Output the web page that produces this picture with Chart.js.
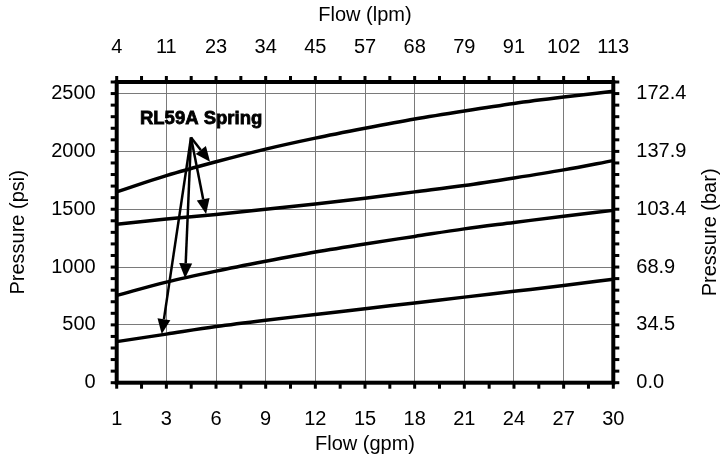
<!DOCTYPE html>
<html>
<head>
<meta charset="utf-8">
<script src="https://cdn.jsdelivr.net/npm/chart.js@4/dist/chart.umd.min.js"></script>
<style>
  body { margin: 0; background: #fff; }
  canvas { display: block; }
</style>
</head>
<body>
<canvas id="flowChart" width="722" height="461"></canvas>
<script>
// Положения по оси X (шкала равномерная, подписи ниже)
const flowPos = [0, 3, 6, 9, 12, 15, 18, 21, 24, 27, 30];
const gpmLabels = ['1', '3', '6', '9', '12', '15', '18', '21', '24', '27', '30'];
const lpmLabels = ['4', '11', '23', '34', '45', '57', '68', '79', '91', '102', '113'];

// Ось давления
const psiTicks = [0, 500, 1000, 1500, 2000, 2500];
const barLabels = ['0.0', '34.5', '68.9', '103.4', '137.9', '172.4'];

// Кривые пружин RL59A (psi)
const spring1 = [1650, 1790, 1910, 2020, 2115, 2200, 2280, 2350, 2415, 2470, 2520];
const spring2 = [1370, 1415, 1455, 1500, 1545, 1595, 1650, 1705, 1770, 1840, 1920];
const spring3 = [755, 870, 965, 1050, 1130, 1200, 1265, 1330, 1385, 1440, 1490];
const spring4 = [355, 420, 485, 540, 590, 640, 690, 740, 790, 840, 895];

// Выноска: подпись и стрелки (в координатах данных)
const calloutText = 'RL59A Spring';
const calloutPos = { x: 5.1, y: 2285 };
const arrowStart = { x: 4.49, y: 2120 };
const arrowTips = [
    { x: 5.64, y: 1911 },
    { x: 5.40, y: 1459 },
    { x: 4.13, y: 903 },
    { x: 2.72, y: 421 }
];

const FONT = '"Liberation Sans", Arial, sans-serif';
Chart.defaults.font.family = FONT;
Chart.defaults.font.size = 20;
Chart.defaults.color = '#000';

function toPoints(values) {
    return values.map((v, i) => ({ x: flowPos[i], y: v }));
}

// Рамка с засечками, стрелки и подписи
const decorPlugin = {
    id: 'decor',
    afterDraw(chart) {
        const ctx = chart.ctx;
        const area = chart.chartArea;
        const xs = chart.scales.x;
        const ys = chart.scales.y;
        ctx.save();

        // засечки
        ctx.fillStyle = '#000';
        for (let v = 0; v <= 30.001; v += 1.5) {
            const px = xs.getPixelForValue(v);
            ctx.fillRect(px - 1.5, area.bottom, 3, 6);
            ctx.fillRect(px - 1.5, area.top - 6, 3, 6);
        }
        for (let v = 0; v <= 2600; v += 100) {
            const py = ys.getPixelForValue(v);
            ctx.fillRect(area.left - 6, py - 1.5, 6, 3);
            ctx.fillRect(area.right, py - 1.5, 6, 3);
        }

        // рамка
        ctx.strokeStyle = '#000';
        ctx.lineWidth = 4;
        ctx.strokeRect(area.left, area.top, area.right - area.left, area.bottom - area.top);

        // стрелки
        const sx = xs.getPixelForValue(arrowStart.x);
        const sy = ys.getPixelForValue(arrowStart.y);
        ctx.lineWidth = 2.5;
        arrowTips.forEach(t => {
            const tx = xs.getPixelForValue(t.x);
            const ty = ys.getPixelForValue(t.y);
            const ang = Math.atan2(ty - sy, tx - sx);
            const len = 15, half = 6.5;
            const bx = tx - len * Math.cos(ang);
            const by = ty - len * Math.sin(ang);
            ctx.beginPath();
            ctx.moveTo(sx, sy);
            ctx.lineTo(bx, by);
            ctx.stroke();
            ctx.beginPath();
            ctx.moveTo(tx, ty);
            ctx.lineTo(bx + half * Math.sin(ang), by - half * Math.cos(ang));
            ctx.lineTo(bx - half * Math.sin(ang), by + half * Math.cos(ang));
            ctx.closePath();
            ctx.fill();
        });

        // подпись выноски (жирнее за счёт тонкой обводки)
        ctx.font = 'bold 18.5px ' + FONT;
        ctx.textAlign = 'center';
        ctx.textBaseline = 'middle';
        ctx.lineWidth = 0.8;
        const cx = xs.getPixelForValue(calloutPos.x);
        const cy = ys.getPixelForValue(calloutPos.y);
        ctx.strokeText(calloutText, cx, cy);
        ctx.fillText(calloutText, cx, cy);

        // заголовок правой оси (снизу вверх)
        ctx.font = '20px ' + FONT;
        ctx.translate(710, (area.top + area.bottom) / 2);
        ctx.rotate(-Math.PI / 2);
        ctx.fillText('Pressure (bar)', 0, 0);
        ctx.restore();
    }
};

function lineSet(values) {
    return {
        data: toPoints(values),
        borderColor: '#000',
        borderWidth: 3.5,
        pointRadius: 0,
        fill: false,
        tension: 0.4,
        cubicInterpolationMode: 'monotone'
    };
}

new Chart(document.getElementById('flowChart'), {
    type: 'line',
    data: {
        datasets: [lineSet(spring1), lineSet(spring2), lineSet(spring3), lineSet(spring4)]
    },
    options: {
        responsive: false,
        animation: false,
        layout: { padding: 0 },
        plugins: {
            legend: { display: false },
            tooltip: { enabled: false }
        },
        scales: {
            x: {
                type: 'linear',
                position: 'bottom',
                min: 0,
                max: 30,
                afterBuildTicks: s => { s.ticks = flowPos.map(v => ({ value: v })); },
                afterFit: s => { s.height = 78.3; },
                ticks: { padding: 25, maxRotation: 0, callback: (v, i) => gpmLabels[i] },
                grid: { color: '#7a7a7a', lineWidth: 1, drawTicks: false },
                border: { display: false },
                title: { display: true, text: 'Flow (gpm)', padding: { top: 0, bottom: 5 } }
            },
            x2: {
                type: 'linear',
                position: 'top',
                min: 0,
                max: 30,
                afterBuildTicks: s => { s.ticks = flowPos.map(v => ({ value: v })); },
                afterFit: s => { s.height = 82; },
                ticks: { padding: 23, maxRotation: 0, callback: (v, i) => lpmLabels[i] },
                grid: { display: false, drawTicks: false },
                border: { display: false },
                title: { display: true, text: 'Flow (lpm)', padding: { top: 3, bottom: 0 } }
            },
            y: {
                type: 'linear',
                position: 'left',
                min: 0,
                max: 2600,
                afterBuildTicks: s => { s.ticks = psiTicks.map(v => ({ value: v })); },
                afterFit: s => { s.width = 116.7; },
                ticks: { padding: 21, callback: v => String(v) },
                grid: { color: '#7a7a7a', lineWidth: 1, drawTicks: false },
                border: { display: false },
                title: { display: true, text: 'Pressure (psi)', padding: { top: 6, bottom: 0 } }
            },
            y2: {
                type: 'linear',
                position: 'right',
                min: 0,
                max: 2600,
                afterBuildTicks: s => { s.ticks = psiTicks.map(v => ({ value: v })); },
                afterFit: s => { s.width = 108.7; },
                ticks: { padding: 23, callback: (v, i) => barLabels[i] },
                grid: { display: false, drawTicks: false },
                border: { display: false }
            }
        }
    },
    plugins: [decorPlugin]
});
</script>
</body>
</html>
